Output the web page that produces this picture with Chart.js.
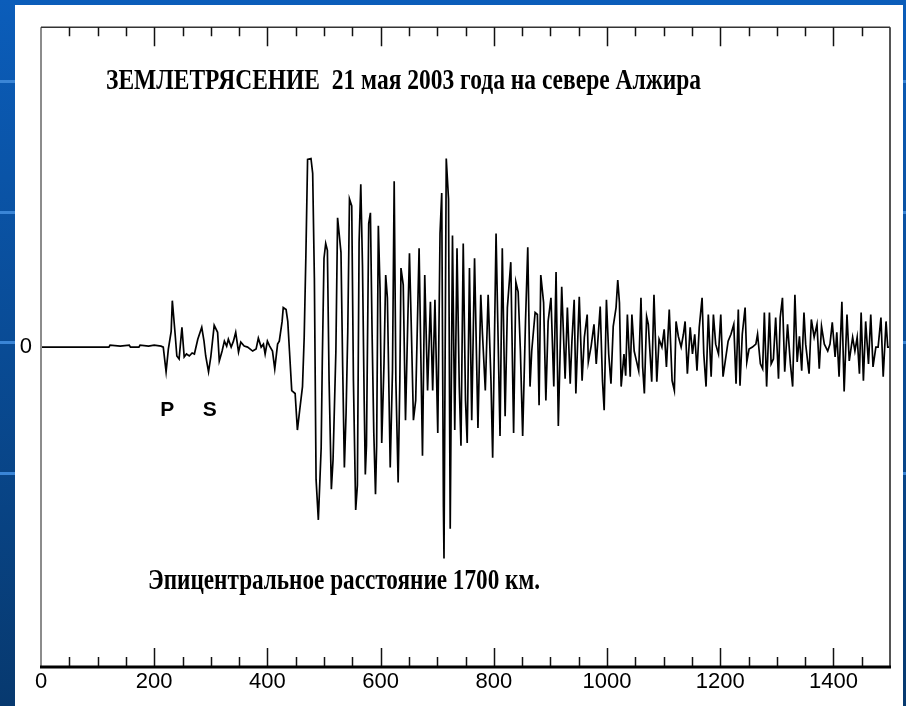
<!DOCTYPE html>
<html>
<head>
<meta charset="utf-8">
<script src="https://cdn.jsdelivr.net/npm/chart.js@4.4.0/dist/chart.umd.min.js"></script>
<style>
html, body { margin: 0; padding: 0; }
body {
  width: 906px; height: 706px; overflow: hidden; position: relative;
  background: linear-gradient(#0b5dba, #07396f);
}
.stripe { position: absolute; left: 0; width: 906px; height: 3px; background: #3a85d6; }
#panel { position: absolute; left: 15px; top: 5px; width: 888px; height: 701px; background: #fff; }
</style>
</head>
<body>
<div class="stripe" style="top:80px"></div>
<div class="stripe" style="top:211px"></div>
<div class="stripe" style="top:341px"></div>
<div class="stripe" style="top:472px"></div>
<div id="panel"><canvas id="seis" width="888" height="701"></canvas></div>
<script>
// seismogram: time (x) and amplitude (y)
const times = [
  0, 120, 122, 140, 156, 158, 173, 175, 190, 200, 212, 216,
  221, 225, 230, 232, 237, 240, 244, 249, 253, 257, 262, 267, 271, 277, 284, 288, 291, 296,
  300, 306, 312, 315, 320, 324, 328, 331, 336, 340, 344, 349, 353, 359, 365, 374, 380, 384,
  389, 393, 396, 400, 404, 409, 413, 418, 421, 426, 428, 433, 436, 439, 443, 449, 453, 457,
  462, 465, 468, 471, 477, 480, 483, 486, 490, 495, 497, 500, 503, 506, 509, 513, 516, 521,
  524, 530, 533, 536, 539, 542, 545, 549, 552, 556, 559, 562, 565, 568, 571, 573, 575, 579,
  582, 585, 588, 591, 593, 596, 599, 602, 606, 609, 612, 617, 621, 624, 627, 631, 634, 636,
  640, 644, 648, 651, 654, 658, 662, 668, 674, 678, 683, 688, 692, 696, 701, 705, 708, 711,
  712, 716, 720, 723, 727, 731, 735, 739, 742, 746, 750, 753, 757, 761, 766, 772, 777, 780,
  785, 790, 795, 798, 804, 807, 811, 815, 820, 824, 830, 835, 839, 843, 847, 851, 856, 860,
  864, 867, 873, 877, 880, 883, 888, 892, 896, 901, 906, 910, 914, 920, 926, 930, 935, 938,
  942, 945, 951, 956, 960, 965, 967, 972, 977, 981, 988, 992, 995, 999, 1003, 1007, 1011, 1016,
  1019, 1022, 1025, 1030, 1033, 1036, 1041, 1044, 1048, 1052, 1056, 1060, 1063, 1066, 1070, 1073,
  1079, 1083, 1088, 1092, 1097, 1101, 1105, 1110, 1115, 1119, 1122, 1126, 1131, 1135, 1138, 1142,
  1147, 1151, 1155, 1159, 1163, 1168, 1171, 1175, 1179, 1184, 1188, 1192, 1197, 1201, 1205, 1214,
  1219, 1224, 1228, 1232, 1235, 1239, 1244, 1247, 1251, 1257, 1263, 1266, 1271, 1275, 1278, 1282,
  1287, 1290, 1294, 1298, 1303, 1306, 1310, 1314, 1319, 1324, 1328, 1332, 1336, 1340, 1344, 1348,
  1351, 1357, 1361, 1366, 1371, 1375, 1379, 1384, 1390, 1394, 1398, 1403, 1406, 1410, 1415, 1419,
  1424, 1428, 1434, 1438, 1442, 1446, 1449, 1453, 1457, 1462, 1466, 1470, 1475, 1479, 1484, 1488,
  1493, 1496, 1500
];
const amps = [
  0, 0, 2, 1, 2, 0, 0, 2, 1, 2, 1, 0,
  -25, -2, 16, 47, 13, -9, -12, 20, -10, -7, -9, -6, -7, 8, 20, 6, -9, -25,
  -10, 22, 15, -14, -4, 6, 1, 8, 0, 6, 15, -5, 5, 1, 0, -4, -2, 9,
  0, 3, -7, 6, 1, -4, -22, 3, 6, 26, 40, 38, 26, -4, -44, -47, -84, -64,
  -40, 10, 93, 190, 191, 176, 70, -134, -175, -102, -14, 90, 105, 98, -34, -144, -114, -4,
  131, 96, -20, -122, -67, 16, 150, 143, -34, -165, -140, 106, 165, 83, -54, -129, -100, 125,
  136, 13, -87, -149, -100, 123, 60, -97, -17, 73, 50, -122, -24, 168, -34, -137, -34, 80,
  63, -74, 26, 95, 26, -74, -54, 100, -110, 73, -44, 46, -44, 48, -87, 115, 156, -162,
  -214, 191, 150, -184, 113, -84, 100, -40, -100, 105, -54, -97, 80, -74, 90, -82, 53, 13,
  -44, 53, -34, -112, 115, 26, -90, 100, -70, 40, 86, -87, 66, 56, -4, -90, 26, 101,
  -40, -4, 35, 33, -59, 73, 45, -54, 26, 50, -40, 76, -80, 61, -32, 40, -37, 6,
  48, -47, 51, -34, 10, 33, -15, 1, 23, -17, 41, -34, -64, 48, -7, -37, 21, 40,
  68, 45, -40, -7, -29, 33, -30, 33, -4, -14, -24, 50, -20, -47, 31, 23,
  -35, 53, -35, 8, 0, 18, -20, 38, -34, -44, 26, 11, 0, 13, 26, -27,
  20, -7, 13, -24, 20, 50, -7, -40, 33, -30, 33, 3, -7, 33, -30, 6,
  13, 23, -37, 38, -39, 13, 40, -15, -2, 0, 3, 13, -17, -22, 35, -40,
  35, -17, -12, 30, -32, 30, 50, -25, 23, -17, -40, 53, -15, 11, -24, 35,
  3, -27, 28, 10, 23, -22, 21, 3, -4, 3, 25, -10, 15, -30, 46, -45,
  33, -14, 10, -4, 10, -27, 35, -34, 26, -17, 33, -20, 0, 0, 30, -30,
  26, 0, 0
];
const xTickLabels = [0, 200, 400, 600, 800, 1000, 1200, 1400];
const yTickLabels = [0];
const phases = [{ label: 'P', t: 223, a: -70 }, { label: 'S', t: 298, a: -70 }];
const titleText = 'ЗЕМЛЕТРЯСЕНИЕ  21 мая 2003 года на севере Алжира';
const distanceText = 'Эпицентральное расстояние 1700 км.';

const tickFont = { family: "'Liberation Sans', sans-serif", size: 22 };

function fitText(ctx, text, left, baseline, width) {
  const w = ctx.measureText(text).width;
  ctx.save();
  ctx.translate(left, baseline);
  ctx.scale(width / w, 1);
  ctx.fillText(text, 0, 0);
  ctx.restore();
}

// frame, inward ticks and texts
const decor = {
  id: 'decor',
  afterDraw(chart) {
    const ctx = chart.ctx;
    const a = chart.chartArea;
    const xs = chart.scales.x, ys = chart.scales.y;
    ctx.save();
    ctx.lineCap = 'butt';
    // left axis
    ctx.strokeStyle = '#8c8c8c';
    ctx.lineWidth = 2;
    ctx.beginPath(); ctx.moveTo(a.left, a.top); ctx.lineTo(a.left, a.bottom); ctx.stroke();
    // right side
    ctx.strokeStyle = '#555';
    ctx.beginPath(); ctx.moveTo(a.right, a.top); ctx.lineTo(a.right, a.bottom); ctx.stroke();
    // top
    ctx.strokeStyle = '#333';
    ctx.lineWidth = 1.5;
    ctx.beginPath(); ctx.moveTo(a.left, a.top); ctx.lineTo(a.right, a.top); ctx.stroke();
    // ticks
    ctx.strokeStyle = '#111';
    ctx.lineWidth = 1.5;
    xs.ticks.forEach(t => {
      if (t.value <= 0 || t.value >= 1500) return;
      const px = Math.round(xs.getPixelForValue(t.value)) + 0.5;
      const major = t.value % 200 === 0;
      const lenB = major ? 19 : 10;
      const lenT = major ? 19 : 9;
      ctx.beginPath();
      ctx.moveTo(px, a.bottom); ctx.lineTo(px, a.bottom - lenB);
      ctx.moveTo(px, a.top); ctx.lineTo(px, a.top + lenT);
      ctx.stroke();
    });
    // bottom axis
    ctx.strokeStyle = '#000';
    ctx.lineWidth = 3;
    ctx.beginPath(); ctx.moveTo(a.left - 1, a.bottom); ctx.lineTo(a.right + 1, a.bottom); ctx.stroke();

    // texts
    ctx.fillStyle = '#000';
    ctx.textBaseline = 'alphabetic';
    ctx.textAlign = 'left';
    ctx.font = "bold 29px 'Liberation Serif', serif";
    fitText(ctx, titleText, 91, 84, 595);
    fitText(ctx, distanceText, 133, 584, 392);
    ctx.font = "bold 21px 'Liberation Sans', sans-serif";
    ctx.textAlign = 'center';
    phases.forEach(p => {
      ctx.fillText(p.label, xs.getPixelForValue(p.t), ys.getPixelForValue(p.a));
    });
    ctx.restore();
  }
};

new Chart(document.getElementById('seis').getContext('2d'), {
  type: 'line',
  data: {
    datasets: [{
      data: times.map((t, i) => ({ x: t, y: amps[i] })),
      borderColor: '#000',
      borderWidth: 1.7,
      pointRadius: 0,
      tension: 0,
      fill: false
    }]
  },
  options: {
    responsive: false,
    devicePixelRatio: 1,
    animation: false,
    layout: { padding: { left: 0, top: 14, right: 13, bottom: 0 } },
    plugins: { legend: { display: false }, tooltip: { enabled: false } },
    scales: {
      x: {
        type: 'linear', min: 0, max: 1500,
        afterBuildTicks: s => {
          const ticks = [];
          for (let v = 0; v <= 1500; v += 50) ticks.push({ value: v });
          s.ticks = ticks;
        },
        afterFit: s => { s.height = 39; },
        grid: { display: false, drawTicks: false },
        border: { display: false },
        ticks: {
          autoSkip: false, maxRotation: 0, padding: 2,
          color: '#000', font: tickFont,
          callback: v => xTickLabels.includes(v) ? String(v) : ''
        }
      },
      y: {
        type: 'linear', min: -324, max: 324,
        afterBuildTicks: s => { s.ticks = yTickLabels.map(v => ({ value: v })); },
        afterFit: s => { s.width = 26; },
        grid: { display: false, drawTicks: false },
        border: { display: false },
        ticks: { padding: 9, color: '#000', font: tickFont }
      }
    }
  },
  plugins: [decor]
});
</script>
</body>
</html>
